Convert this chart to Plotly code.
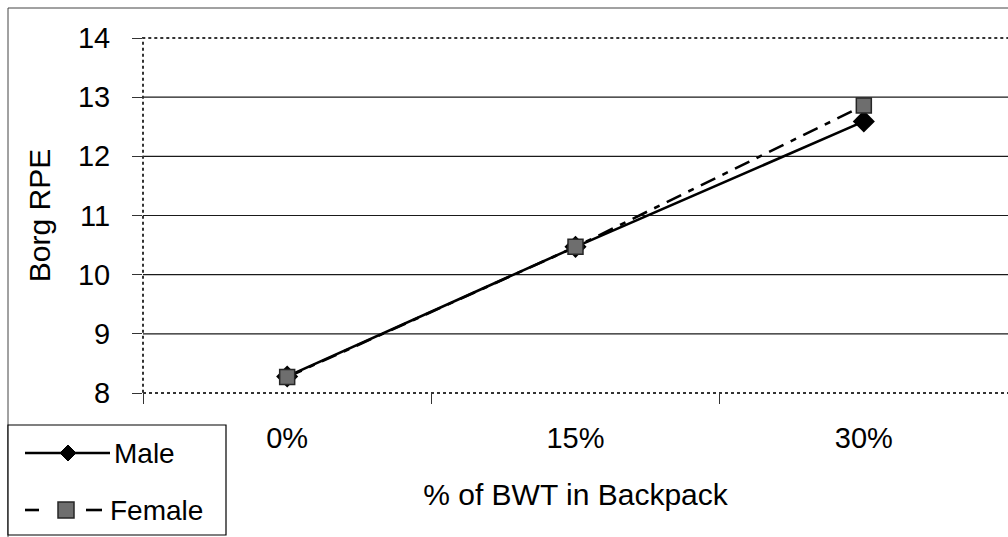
import plotly.graph_objects as go

# Borg RPE by backpack load (% of body weight)
loads = ["0%", "15%", "30%"]
male_rpe = [8.28, 10.47, 12.59]
female_rpe = [8.27, 10.47, 12.86]
y_ticks = [8, 9, 10, 11, 12, 13, 14]

FONT = "Liberation Sans, Arial, sans-serif"
W, H = 1008, 537
ML, MR, MT, MB = 143, 0, 38, 144
PW, PH = W - ML - MR, H - MT - MB


def px(x):
    """Pixel column -> paper x."""
    return (x - ML) / PW


def py(y):
    """Pixel row -> paper y."""
    return (H - MB - y) / PH


fig = go.Figure()

fig.add_trace(go.Scatter(
    x=loads, y=male_rpe, name="Male", mode="lines+markers",
    line=dict(color="black", width=2.6),
    marker=dict(symbol="diamond", size=17, color="black"),
    showlegend=False,
))
fig.add_trace(go.Scatter(
    x=loads, y=female_rpe, name="Female", mode="lines+markers",
    line=dict(color="black", width=2.6, dash="16px,8px,6px,8px"),
    marker=dict(symbol="square", size=15, color="#6e6e6e",
                line=dict(color="#262626", width=1.5)),
    showlegend=False,
))

shapes = []
# horizontal gridlines at the interior ticks
for v in y_ticks[1:-1]:
    shapes.append(dict(type="line", xref="paper", yref="y", x0=0, x1=1,
                       y0=v, y1=v, line=dict(color="#1a1a1a", width=1.2),
                       layer="below"))
# dotted plot-area frame
shapes.append(dict(type="rect", xref="paper", yref="paper", x0=0, x1=1.01,
                   y0=0, y1=1, line=dict(color="#333", width=2, dash="dot"),
                   layer="above"))
# outer chart border
shapes.append(dict(type="rect", xref="paper", yref="paper",
                   x0=px(8), x1=px(1020), y0=py(560), y1=py(8),
                   line=dict(color="#444", width=1)))

# legend box
shapes.append(dict(type="rect", xref="paper", yref="paper",
                   x0=px(8), x1=px(226), y0=py(535), y1=py(425),
                   line=dict(color="black", width=1.2),
                   fillcolor="white"))
# Male key: solid line + diamond
shapes.append(dict(type="line", xref="paper", yref="paper",
                   x0=px(25), x1=px(110), y0=py(453), y1=py(453),
                   line=dict(color="black", width=2.6)))
shapes.append(dict(type="path", xref="paper", yref="paper",
                   xsizemode="pixel", ysizemode="pixel",
                   xanchor=px(68), yanchor=py(453),
                   path="M -8 0 L 0 8 L 8 0 L 0 -8 Z",
                   fillcolor="black", line=dict(color="black", width=1)))
# Female key: two dashes + square
for a, b in [(25, 39), (86, 102)]:
    shapes.append(dict(type="line", xref="paper", yref="paper",
                       x0=px(a), x1=px(b), y0=py(510), y1=py(510),
                       line=dict(color="black", width=2.6)))
shapes.append(dict(type="rect", xref="paper", yref="paper",
                   xsizemode="pixel", ysizemode="pixel",
                   xanchor=px(66), yanchor=py(510),
                   x0=-8, x1=8, y0=-8, y1=8,
                   fillcolor="#6e6e6e", line=dict(color="#262626", width=1.5)))

annotations = [
    dict(text="Male", xref="paper", yref="paper", x=px(112), y=py(453),
         xanchor="left", yanchor="middle", showarrow=False,
         font=dict(family=FONT, size=28, color="black")),
    dict(text="Female", xref="paper", yref="paper", x=px(108), y=py(510),
         xanchor="left", yanchor="middle", showarrow=False,
         font=dict(family=FONT, size=28, color="black")),
]

fig.update_layout(
    width=W, height=H,
    margin=dict(l=ML, r=MR, t=MT, b=MB, pad=0),
    paper_bgcolor="white", plot_bgcolor="white",
    font=dict(family=FONT, size=29, color="black"),
    shapes=shapes, annotations=annotations,
    showlegend=False,
)
fig.update_xaxes(
    type="category", categoryorder="array", categoryarray=loads,
    range=[-0.5, 2.5], showgrid=False, zeroline=False, showline=False,
    ticks="outside", tickson="boundaries", ticklen=10, tickwidth=1.2,
    tickcolor="#333", ticklabelstandoff=25,
    tickfont=dict(family=FONT, size=29),
    title=dict(text="% of BWT in Backpack", standoff=30,
               font=dict(family=FONT, size=30)),
)
fig.update_yaxes(
    range=[8, 14], tickvals=y_ticks, showgrid=False, zeroline=False,
    showline=False, ticks="outside", ticklen=10, tickwidth=1.2,
    tickcolor="#333", ticklabelstandoff=16,
    tickfont=dict(family=FONT, size=29),
    title=dict(text="Borg RPE", standoff=18,
               font=dict(family=FONT, size=30)),
)

fig.write_html("out.html")
